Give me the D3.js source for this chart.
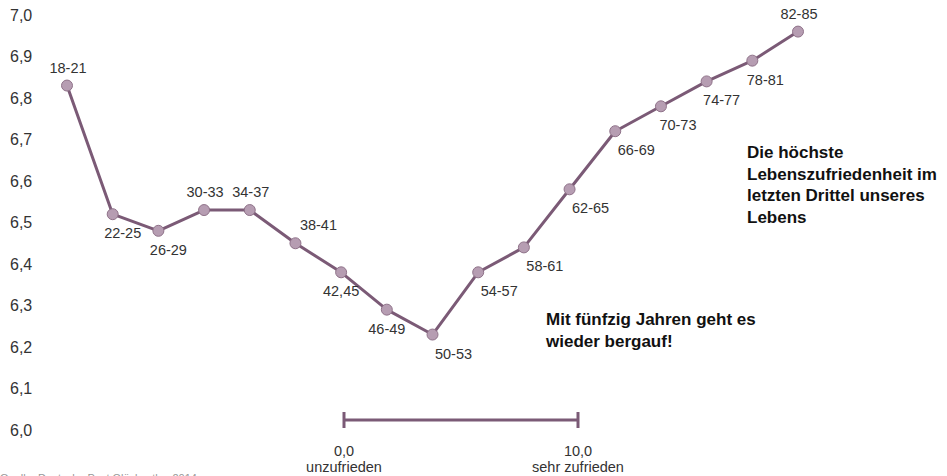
<!DOCTYPE html>
<html>
<head>
<meta charset="utf-8">
<script src="https://cdn.jsdelivr.net/npm/d3@7"></script>
<style>
  html, body { margin: 0; padding: 0; background: #fff; }
  svg { display: block; font-family: "Liberation Sans", Arial, sans-serif; }
</style>
</head>
<body>
<svg id="chart" width="947" height="476"></svg>
<script>
// Age groups and mean life satisfaction (scale 0–10)
const ageGroups = ["18-21", "22-25", "26-29", "30-33", "34-37", "38-41", "42,45", "46-49",
                   "50-53", "54-57", "58-61", "62-65", "66-69", "70-73", "74-77", "78-81", "82-85"];
const satisfaction = [6.83, 6.52, 6.48, 6.53, 6.53, 6.45, 6.38, 6.29,
                      6.23, 6.38, 6.44, 6.58, 6.72, 6.78, 6.84, 6.89, 6.96];
// where each age label sits relative to its point
const labelSide = ["above", "below", "below", "above", "above", "above", "below", "below",
                   "below", "below", "below", "below", "below", "below", "below", "below", "above"];
const yTicks = [6.0, 6.1, 6.2, 6.3, 6.4, 6.5, 6.6, 6.7, 6.8, 6.9, 7.0];
const scaleEnds = [0, 10];
const scaleEndLabels = ["unzufrieden", "sehr zufrieden"];
const noteMid = ["Mit fünfzig Jahren geht es", "wieder bergauf!"];
const noteOld = ["Die höchste", "Lebenszufriedenheit im", "letzten Drittel unseres", "Lebens"];
const sourceText = "Quelle: Deutsche Post Glücksatlas 2014";

const svg = d3.select("#chart");
const FONT = "'Liberation Sans', Arial, sans-serif";
const lineColor = "#7b5a76";
const dotFill = "#b69db2";
const dotStroke = "#8f7289";
const fmt = d => d3.format(".1f")(d).replace(".", ",");

const x = d3.scalePoint().domain(ageGroups).range([67, 798]);
const y = d3.scaleLinear().domain([6.0, 7.0]).range([430, 15]);

// value axis: labels only, no line or ticks
const yAxis = d3.axisLeft(y).tickValues(yTicks).tickFormat(fmt).tickSize(0).tickPadding(0);
const gy = svg.append("g").attr("transform", "translate(10,0)").call(yAxis);
gy.attr("font-family", FONT).attr("font-size", 16);
gy.select(".domain").remove();
gy.selectAll("text")
  .attr("text-anchor", "start")
  .attr("fill", "#333");

const pts = ageGroups.map((g, i) => ({ g, v: satisfaction[i], side: labelSide[i] }));

svg.append("path")
  .datum(pts)
  .attr("fill", "none")
  .attr("stroke", lineColor)
  .attr("stroke-width", 3)
  .attr("stroke-linejoin", "round")
  .attr("d", d3.line().x(d => x(d.g)).y(d => y(d.v)));

svg.append("g").selectAll("circle")
  .data(pts).join("circle")
  .attr("cx", d => x(d.g))
  .attr("cy", d => y(d.v))
  .attr("r", 5.5)
  .attr("fill", dotFill)
  .attr("stroke", dotStroke)
  .attr("stroke-width", 1);

// age labels: above ones centred on the point, below ones nudged right of the line
svg.append("g").selectAll("text")
  .data(pts).join("text")
  .attr("x", d => {
    if (d.side === "above") return x(d.g) + (d.g === "38-41" ? 23 : 1);
    if (d.g === "42,45" || d.g === "46-49") return x(d.g);
    if (d.g === "22-25" || d.g === "26-29") return x(d.g) + 10;
    if (d.g === "74-77") return x(d.g) + 15;
    if (d.g === "78-81") return x(d.g) + 13;
    if (d.g === "70-73") return x(d.g) + 17;
    return x(d.g) + 21;
  })
  .attr("y", d => y(d.v) + (d.side === "above" ? -18 : 19))
  .attr("dy", "0.35em")
  .attr("text-anchor", "middle")
  .attr("font-family", FONT)
  .attr("font-size", 14.5)
  .attr("fill", "#333")
  .text(d => d.g);

// satisfaction range legend 0–10
const s = d3.scaleLinear().domain(scaleEnds).range([344, 578]);
const legend = svg.append("g").attr("font-family", FONT);
legend.append("line")
  .attr("x1", s(0)).attr("x2", s(10)).attr("y1", 420).attr("y2", 420)
  .attr("stroke", lineColor).attr("stroke-width", 3);
legend.selectAll("line.cap")
  .data(scaleEnds).join("line").attr("class", "cap")
  .attr("x1", d => s(d)).attr("x2", d => s(d))
  .attr("y1", 412).attr("y2", 428)
  .attr("stroke", lineColor).attr("stroke-width", 3);
legend.selectAll("text.val")
  .data(scaleEnds).join("text").attr("class", "val")
  .attr("x", d => s(d)).attr("y", 451).attr("dy", "0.35em")
  .attr("text-anchor", "middle").attr("font-size", 14.5).attr("fill", "#333")
  .text(fmt);
legend.selectAll("text.lbl")
  .data(scaleEnds).join("text").attr("class", "lbl")
  .attr("x", d => s(d)).attr("y", 467).attr("dy", "0.35em")
  .attr("text-anchor", "middle").attr("font-size", 14.5).attr("fill", "#333")
  .text((d, i) => scaleEndLabels[i]);

// annotations
function note(lines, x0, y0, lh) {
  svg.append("g").selectAll("text")
    .data(lines).join("text")
    .attr("x", x0).attr("y", (d, i) => y0 + i * lh).attr("dy", "0.35em")
    .attr("font-family", FONT)
    .attr("font-size", 17).attr("font-weight", "bold").attr("fill", "#111")
    .text(d => d);
}
note(noteMid, 546, 319, 22);
note(noteOld, 747, 152, 21.7);

// source line at the bottom edge
svg.append("text")
  .attr("x", 0).attr("y", 482)
  .attr("font-family", FONT)
  .attr("font-size", 11).attr("fill", "#999")
  .text(sourceText);
</script>
</body>
</html>
